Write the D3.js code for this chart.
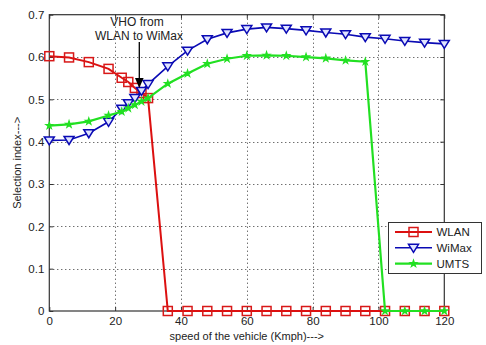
<!DOCTYPE html>
<html>
<head>
<meta charset="utf-8" />
<script src="https://cdn.jsdelivr.net/npm/d3@7"></script>
<style>
  body { margin: 0; background: #fff; }
  text { font-family: "Liberation Sans", Arial, sans-serif; fill: #222; }
</style>
</head>
<body>
<script>
    var width = 486,
        height = 345;

    // speeds (Kmph) sampled in the figure
    var speed = [0, 6, 12, 18, 22, 24, 26, 28, 30, 36, 42, 48, 54, 60, 66, 72, 78, 84, 90, 96, 102, 108, 114, 120];
    var wlan = [0.602, 0.599, 0.588, 0.572, 0.551, 0.541, 0.527, 0.515, 0.503, 0, 0, 0, 0, 0, 0, 0, 0, 0, 0, 0, 0, 0, 0, 0];
    var wimax = [0.403, 0.404, 0.420, 0.447, 0.478, 0.491, 0.503, 0.520, 0.536, 0.578, 0.615, 0.642, 0.657, 0.666, 0.670, 0.667, 0.663, 0.658, 0.654, 0.647, 0.643, 0.638, 0.634, 0.631];
    var umts = [0.438, 0.441, 0.448, 0.462, 0.471, 0.479, 0.487, 0.495, 0.503, 0.537, 0.561, 0.584, 0.596, 0.603, 0.604, 0.603, 0.600, 0.597, 0.592, 0.589, 0, 0, 0, 0];
    var xTicks = [0, 20, 40, 60, 80, 100, 120];
    var yTicks = [0, 0.1, 0.2, 0.3, 0.4, 0.5, 0.6, 0.7];
    var seriesNames = ["WLAN", "WiMax", "UMTS"];

    var x = d3.scaleLinear().domain([0, 120]).range([49.3, 444.3]);
    var y = d3.scaleLinear().domain([0, 0.7]).range([311, 14.7]);

    var svg = d3.select("body").append("svg")
        .attr("width", width)
        .attr("height", height);

    // grid
    var grid = svg.append("g")
        .attr("stroke", "#333")
        .attr("stroke-width", 1)
        .attr("stroke-dasharray", "1,3");
    grid.selectAll(".gx").data(xTicks.slice(1, -1)).enter().append("line")
        .attr("x1", function (d) { return Math.round(x(d)) + 0.5; })
        .attr("x2", function (d) { return Math.round(x(d)) + 0.5; })
        .attr("y1", y(0.7)).attr("y2", y(0));
    grid.selectAll(".gy").data(yTicks.slice(1, -1)).enter().append("line")
        .attr("y1", function (d) { return Math.round(y(d)) + 0.5; })
        .attr("y2", function (d) { return Math.round(y(d)) + 0.5; })
        .attr("x1", x(0)).attr("x2", x(120));

    // frame
    svg.append("rect")
        .attr("x", x(0)).attr("y", y(0.7))
        .attr("width", x(120) - x(0)).attr("height", y(0) - y(0.7))
        .attr("fill", "none").attr("stroke", "#333").attr("stroke-width", 1.2);

    // axes with inward ticks
    var xAxis = d3.axisBottom(x).tickValues(xTicks).tickSize(-4).tickPadding(6)
        .tickFormat(d3.format("d"));
    var yAxis = d3.axisLeft(y).tickValues(yTicks).tickSize(-4).tickPadding(5)
        .tickFormat(function (d) { return d === 0 ? "0" : d3.format(".1f")(d); });

    var gx = svg.append("g").attr("transform", "translate(0," + y(0) + ")").call(xAxis);
    var gy = svg.append("g").attr("transform", "translate(" + x(0) + ",0)").call(yAxis);
    svg.append("g").attr("transform", "translate(0," + y(0.7) + ")")
        .call(d3.axisTop(x).tickValues(xTicks).tickSize(-4).tickFormat(""));
    svg.append("g").attr("transform", "translate(" + x(120) + ",0)")
        .call(d3.axisRight(y).tickValues(yTicks).tickSize(-4).tickFormat(""));
    svg.selectAll(".domain").remove();
    svg.selectAll(".tick line").attr("stroke", "#333");
    [gx, gy].forEach(function (g) {
        g.selectAll("text").style("font-size", "11.5px").attr("fill", "#222")
            .style("font-family", "Liberation Sans, Arial, sans-serif");
    });

    // axis labels
    svg.append("text")
        .attr("x", (x(0) + x(120)) / 2).attr("y", 340)
        .attr("text-anchor", "middle").style("font-size", "11px")
        .text("speed of the vehicle (Kmph)--->");
    svg.append("text")
        .attr("transform", "translate(21," + (y(0) + y(0.7)) / 2 + ") rotate(-90)")
        .attr("text-anchor", "middle").style("font-size", "11px")
        .text("Selection index--->");

    // lines + markers
    var line = d3.line()
        .x(function (d) { return x(d[0]); })
        .y(function (d) { return y(d[1]); });

    function pairs(vals) {
        return speed.map(function (s, i) { return [s, vals[i]]; });
    }

    var styles = {
        WLAN: { color: "#dc1010", width: 2, values: wlan },
        WiMax: { color: "#0a0ab4", width: 1.6, values: wimax },
        UMTS: { color: "#22e022", width: 2.2, values: umts }
    };

    function drawMarker(g, name, cx, cy) {
        var s = styles[name];
        if (name === "WLAN") {
            g.append("rect").attr("x", cx - 4.5).attr("y", cy - 4.5)
                .attr("width", 9).attr("height", 9)
                .attr("fill", "none").attr("stroke", "#d81818").attr("stroke-width", 1.5);
        } else if (name === "WiMax") {
            g.append("path")
                .attr("d", "M" + (cx - 5) + "," + (cy - 3.5) + "L" + (cx + 5) + "," + (cy - 3.5) + "L" + cx + "," + (cy + 4.5) + "Z")
                .attr("fill", "#e0e4ff").attr("stroke", s.color).attr("stroke-width", 1.5);
        } else {
            g.append("path")
                .attr("d", d3.symbol(d3.symbolStar, 14)())
                .attr("transform", "translate(" + cx + "," + cy + ")")
                .attr("fill", s.color).attr("stroke", s.color).attr("stroke-width", 1.2);
        }
    }

    seriesNames.forEach(function (name) {
        var s = styles[name];
        var data = pairs(s.values);
        var g = svg.append("g");
        g.append("path").datum(data).attr("d", line)
            .attr("fill", "none").attr("stroke", s.color).attr("stroke-width", s.width);
        data.forEach(function (d) { drawMarker(g, name, x(d[0]), y(d[1])); });
    });

    // annotation
    svg.append("text").attr("x", 137).attr("y", 26)
        .attr("text-anchor", "middle").style("font-size", "12px").text("VHO from");
    svg.append("text").attr("x", 139).attr("y", 39.5)
        .attr("text-anchor", "middle").style("font-size", "12px").text("WLAN to WiMax");
    svg.append("line").attr("x1", 139.3).attr("x2", 139.3).attr("y1", 42).attr("y2", 80)
        .attr("stroke", "#000").attr("stroke-width", 1.3);
    svg.append("path").attr("d", "M135,78L143.6,78L139.3,88Z").attr("fill", "#000");

    // legend
    var leg = svg.append("g");
    leg.append("rect").attr("x", 388.5).attr("y", 222.5).attr("width", 93).attr("height", 51)
        .attr("fill", "#fff").attr("stroke", "#333").attr("stroke-width", 1);
    seriesNames.forEach(function (name, i) {
        var s = styles[name];
        var ly = 232 + i * 15.8;
        leg.append("line").attr("x1", 395).attr("x2", 432).attr("y1", ly).attr("y2", ly)
            .attr("stroke", s.color).attr("stroke-width", s.width);
        drawMarker(leg, name, 413.5, ly);
        leg.append("text").attr("x", 436.5).attr("y", ly + 4)
            .style("font-size", "11.5px").text(name);
    });
</script>
</body>
</html>
